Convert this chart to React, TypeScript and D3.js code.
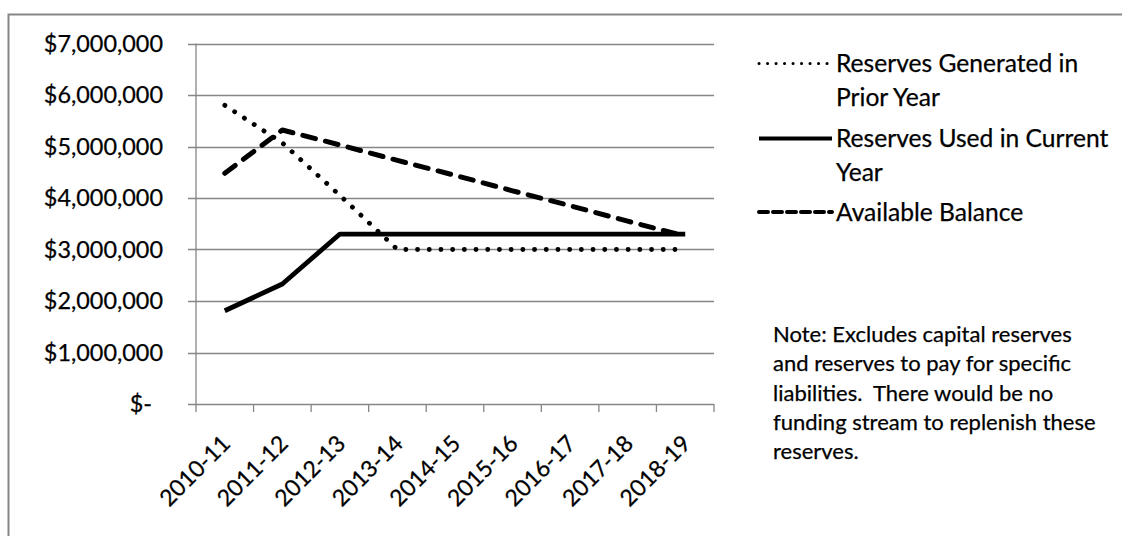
import React from "react";
import * as d3 from "d3";

// Fiscal years on the category axis
const categories = [
  "2010-11", "2011-12", "2012-13", "2013-14", "2014-15",
  "2015-16", "2016-17", "2017-18", "2018-19",
];

// Series values, in dollars
const reservesGenerated = [5800000, 5070000, 4050000, 3000000, 3000000, 3000000, 3000000, 3000000, 3000000];
const reservesUsed = [1810000, 2330000, 3300000, 3300000, 3300000, 3300000, 3300000, 3300000, 3300000];
const availableBalance = [4480000, 5320000, 5030000, 4730000, 4440000, 4140000, 3850000, 3550000, 3260000];

const yTicks = [0, 1000000, 2000000, 3000000, 4000000, 5000000, 6000000, 7000000];

const seriesNames = [
  ["Reserves Generated in", "Prior Year"],
  ["Reserves Used in Current", "Year"],
  ["Available Balance"],
];

const noteLines = [
  "Note: Excludes capital reserves",
  "and reserves to pay for specific",
  "liabilities.  There would be no",
  "funding stream to replenish these",
  "reserves.",
];

const W = 1122;
const H = 536;
const FONT = "Lato, 'Open Sans', sans-serif";
const GRID = "#868686";

const styles = [
  { dash: "0.1 11.6", width: 4.8, cap: "round" as const, legendDash: "0.1 8.4", legendWidth: 3 },
  { dash: undefined, width: 4.8, cap: "butt" as const, legendDash: undefined, legendWidth: 4 },
  { dash: "13 10.3", width: 5, cap: "round" as const, legendDash: "9 5", legendWidth: 4 },
];

// slight outline so the regular face reads as heavy as the chart text
const ink = { fill: "#000", stroke: "#000", strokeWidth: 0.25 };

export default function App() {
  const x = d3.scaleBand<string>().domain(categories).range([196, 714]).paddingInner(0).paddingOuter(0);
  const y = d3.scaleLinear().domain([0, 7000000]).range([404, 43.5]);
  const cx = (c: string) => (x(c) ?? 0) + x.bandwidth() / 2;

  const line = d3
    .line<number>()
    .x((_, i) => cx(categories[i]))
    .y((d) => y(d));

  const series = [reservesGenerated, reservesUsed, availableBalance];
  const money = d3.format(",.0f");
  const tickLabel = (v: number) => (v === 0 ? "$-" : "$" + money(v));

  const [x0, x1] = x.range();
  const boundaries = categories.map((c) => x(c) ?? 0).concat([x1]);

  const legendY = [63.5, 138.5, 212];
  const legendLineGap = 33.5;

  return (
    <svg
      width={W}
      height={H}
      style={{ position: "absolute", left: 0, top: 0, background: "#fff" }}
      fontFamily={FONT}
    >
      <rect x={8.5} y={14.5} width={W} height={H} fill="#fff" stroke={GRID} strokeWidth={2} />

      {/* horizontal gridlines with left tick stubs */}
      {yTicks.map((t) => (
        <line key={"g" + t} x1={188} x2={x1} y1={Math.round(y(t)) + 0.5} y2={Math.round(y(t)) + 0.5} stroke={GRID} strokeWidth={1.3} />
      ))}
      {/* value axis */}
      <line x1={x0} x2={x0} y1={y(7000000)} y2={y(0)} stroke={GRID} strokeWidth={1.3} />
      {/* category tick marks */}
      {boundaries.map((b, i) => (
        <line key={"t" + i} x1={b} x2={b} y1={y(0)} y2={y(0) + 8} stroke={GRID} strokeWidth={1.3} />
      ))}

      {/* value labels */}
      {yTicks.map((t) => (
        <text key={"l" + t} x={t === 0 ? 152 : 163} y={y(t)} dy="0.35em" textAnchor="end" fontSize={23.4} {...ink}>
          {tickLabel(t)}
        </text>
      ))}

      {/* category labels */}
      {categories.map((c) => (
        <text
          key={c}
          transform={`translate(${cx(c) + 7},${y(0) + 41}) rotate(-45)`}
          textAnchor="end"
          fontSize={23}
          {...ink}
        >
          {c}
        </text>
      ))}

      {/* series lines */}
      {series.map((s, i) => (
        <path
          key={"s" + i}
          d={line(s) ?? ""}
          fill="none"
          stroke="#000"
          strokeWidth={styles[i].width}
          strokeDasharray={styles[i].dash}
          strokeLinecap={styles[i].cap}
          strokeLinejoin="round"
        />
      ))}

      {/* legend */}
      {seriesNames.map((lines, i) => (
        <g key={"lg" + i}>
          <line
            x1={759}
            x2={832}
            y1={legendY[i]}
            y2={legendY[i]}
            stroke="#000"
            strokeWidth={styles[i].legendWidth}
            strokeDasharray={styles[i].legendDash}
            strokeLinecap={styles[i].cap}
          />
          {lines.map((ln, j) => (
            <text key={j} x={836} y={legendY[i] + j * legendLineGap} dy="0.35em" fontSize={24.6} {...ink}>
              {ln}
            </text>
          ))}
        </g>
      ))}

      {/* note */}
      {noteLines.map((ln, i) => (
        <text key={"n" + i} x={773} y={334 + i * 29.4} dy="0.35em" fontSize={22} {...ink} style={{ whiteSpace: "pre" }}>
          {ln}
        </text>
      ))}
    </svg>
  );
}
